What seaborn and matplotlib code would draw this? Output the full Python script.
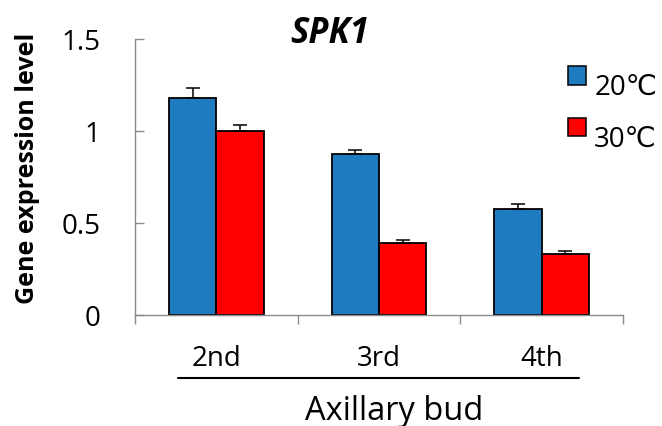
import matplotlib
matplotlib.use("Agg")
import matplotlib.pyplot as plt
import numpy as np
import pandas as pd
import seaborn as sns
from matplotlib.legend_handler import HandlerPatch
from matplotlib.patches import Patch, Rectangle
from matplotlib.ticker import FixedLocator

# data
buds = ["2nd", "3rd", "4th"]
temps = ["20℃", "30℃"]
expr_20 = [1.18, 0.873, 0.574]
expr_30 = [1.00, 0.394, 0.332]
err_20 = [0.055, 0.025, 0.027]
err_30 = [0.033, 0.013, 0.018]
y_ticks = [0, 0.5, 1, 1.5]
y_tick_labels = ["0", "0.5", "1", "1.5"]

colors = ["#1f7bc0", "#ff0000"]

sns.set_theme(style="white")
plt.rcParams["font.family"] = ["Open Sans", "DejaVu Sans"]
plt.rcParams.update({"text.color": "black", "axes.labelcolor": "black",
                     "xtick.labelcolor": "black", "ytick.labelcolor": "black"})

df = pd.DataFrame({
    "bud": buds * 2,
    "temp": [temps[0]] * 3 + [temps[1]] * 3,
    "expr": expr_20 + expr_30,
})

fig = plt.figure(figsize=(6.62, 4.27), dpi=100)
ax = fig.add_axes([135 / 662, 1 - 316 / 427, 488 / 662, 276 / 427])

sns.barplot(data=df, x="bud", y="expr", hue="temp", palette=colors, saturation=1,
            width=0.58, edgecolor="black", linewidth=1.3, errorbar=None,
            legend=False, ax=ax)

# upper-only error bars at the bar centres
errs = err_20 + err_30
vals = expr_20 + expr_30
bars = ax.patches[:6]
xs = [b.get_x() + b.get_width() / 2 for b in bars]
ax.errorbar(xs, vals, yerr=[np.zeros(6), errs], fmt="none", ecolor="black",
            elinewidth=1.1, capsize=4.7, capthick=1.1, zorder=3)

ax.set_xlim(-0.5, 2.5)
ax.set_ylim(0, 1.5)
ax.set_yticks(y_ticks)
ax.set_yticklabels(y_tick_labels)
ax.set_xlabel("")
ax.set_ylabel("Gene expression level", fontsize=18, fontweight="bold", labelpad=15)
ax.yaxis.label.set_y(0.535)

for side in ["top", "right"]:
    ax.spines[side].set_visible(False)
for side in ["left", "bottom"]:
    ax.spines[side].set_color("#8c8c8c")
    ax.spines[side].set_linewidth(1.0)

ax.tick_params(axis="y", direction="in", length=6.5, width=1.0, color="#8c8c8c",
               pad=25, labelsize=20, left=True)
ax.tick_params(axis="x", which="major", length=0, pad=21, labelsize=20)
ax.xaxis.set_minor_locator(FixedLocator([-0.5, 0.5, 1.5, 2.5]))
ax.tick_params(axis="x", which="minor", direction="out", length=6.5, width=1.0,
               color="#8c8c8c", bottom=True)

# line under the category labels, then the group label
ax.plot([0.088, 0.91], [-0.228, -0.228], color="black", lw=1.5,
        transform=ax.transAxes, clip_on=False)
ax.text(0.532, -0.377, "Axillary bud", fontsize=23.5, ha="center", va="baseline",
        transform=ax.transAxes)

ax.text(0.4, 0.989, "SPK1", fontsize=25, fontweight="bold", fontstyle="italic",
        ha="center", va="baseline", transform=ax.transAxes)


def square(legend, orig_handle, xdescent, ydescent, width, height, fontsize):
    return Rectangle((-xdescent, 7.0), 13, 13)


handles = [Patch(facecolor=c, edgecolor="black", linewidth=1.1) for c in colors]
ax.legend(handles, temps, loc="upper left", bbox_to_anchor=(0.887, 0.876),
          frameon=False, fontsize=20, handlelength=0.65, handleheight=0.65,
          handletextpad=0.3, labelspacing=0.84, borderpad=0, borderaxespad=0,
          handler_map={Patch: HandlerPatch(patch_func=square)})

fig.savefig("out.png", dpi=100)
